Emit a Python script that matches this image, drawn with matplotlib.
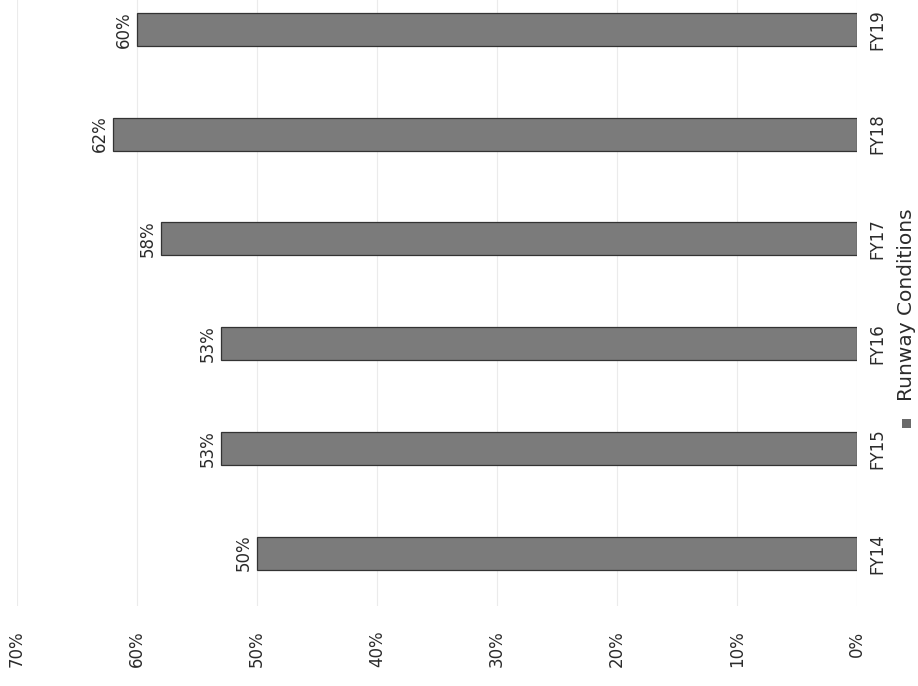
import matplotlib
matplotlib.use("Agg")
import matplotlib.pyplot as plt
from matplotlib.patches import Rectangle

# scanned page is rotated 90 degrees, so the column chart is drawn as
# horizontal bars with the value axis running right-to-left
years = ["FY14", "FY15", "FY16", "FY17", "FY18", "FY19"]
runway_share = [0.50, 0.53, 0.53, 0.58, 0.62, 0.60]
value_ticks = [0.0, 0.1, 0.2, 0.3, 0.4, 0.5, 0.6, 0.7]
series_name = "Runway Conditions"

TEXT = "#2b2b2b"
BAR = "#7b7b7b"

fig = plt.figure(figsize=(9.18, 6.86), dpi=100)
ax = fig.add_axes([17 / 918, 80.5 / 686, 840 / 918, 628.5 / 686])

pos = list(range(len(years)))
ax.barh(pos, runway_share, height=0.315, color=BAR, edgecolor="#333333",
        linewidth=0.9, zorder=2)

for p, v in zip(pos, runway_share):
    ax.annotate(f"{v:.0%}", (v, p), xytext=(-3, 0), textcoords="offset points",
                ha="right", va="center", rotation=90, fontsize=12, color=TEXT)

ax.set_xlim(0.70, 0.0)
ax.set_ylim(-0.5, 5.5)
ax.set_xticks(value_ticks)
ax.set_xticklabels([f"{t:.0%}" for t in value_ticks], rotation=90,
                   fontsize=12, color=TEXT)
ax.set_yticks(pos)
ax.set_yticklabels(years, rotation=90, va="center", fontsize=12, color=TEXT)
ax.yaxis.tick_right()
ax.tick_params(axis="x", length=0, pad=18)
ax.tick_params(axis="y", length=0, pad=8)
ax.grid(axis="x", color="#ebebeb", linewidth=0.8, zorder=0)
for s in ax.spines.values():
    s.set_visible(False)

# legend, rotated with the page
fig.text(906 / 918, 1 - 305 / 686, series_name, rotation=90, ha="center",
         va="center", fontsize=14.5, color=TEXT)
fig.patches.append(Rectangle((902 / 918, 1 - 428 / 686), 9 / 918, 9 / 686,
                             transform=fig.transFigure, facecolor="#6a6a6a",
                             edgecolor="none"))

fig.savefig("out.png", dpi=100)
